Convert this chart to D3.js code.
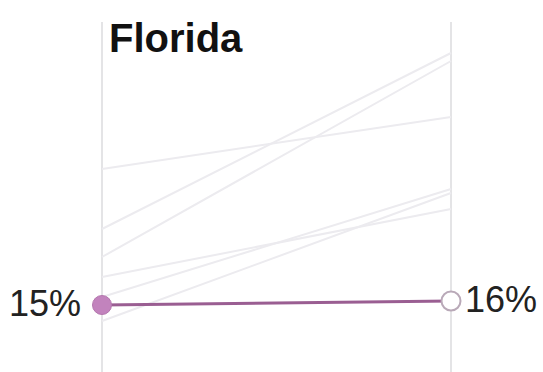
<!DOCTYPE html>
<html>
<head>
<meta charset="utf-8">
<script src="https://cdn.jsdelivr.net/npm/d3@7/dist/d3.min.js"></script>
<style>
  html, body { margin: 0; padding: 0; background: #fff; }
  svg { display: block; }
</style>
</head>
<body>
<div id="chart"></div>
<script>
// Share (%) at the start and end of the period
const state = "Florida";
const periods = ["start", "end"];
const highlightValues = [15, 16];
// Other states, drawn faint in the background
const otherStart = [49, 34, 27, 22, 17, 11];
const otherEnd   = [62, 78, 76, 39, 44, 43];

const width = 543, height = 372;

const svg = d3.select("#chart").append("svg")
  .attr("width", width)
  .attr("height", height);

const x = d3.scalePoint().domain(periods).range([102, 451]);
const y = d3.scaleLinear().domain([0, 90]).range([365, 5]);

// Vertical guides for the two periods
svg.selectAll("line.guide")
  .data(periods)
  .enter().append("line")
  .attr("class", "guide")
  .attr("x1", d => x(d)).attr("x2", d => x(d))
  .attr("y1", 22).attr("y2", height)
  .attr("stroke", "#e4e4e6")
  .attr("stroke-width", 2);

const line = d3.line().x(d => x(d.p)).y(d => y(d.v));

// Background lines
const others = otherStart.map((s, i) => [
  { p: periods[0], v: s },
  { p: periods[1], v: otherEnd[i] }
]);
svg.selectAll("path.other")
  .data(others)
  .enter().append("path")
  .attr("class", "other")
  .attr("d", line)
  .attr("fill", "none")
  .attr("stroke", "#ecebef")
  .attr("stroke-width", 2);

// Highlighted state
const hl = highlightValues.map((v, i) => ({ p: periods[i], v }));
svg.append("path")
  .attr("d", line(hl))
  .attr("fill", "none")
  .attr("stroke", "#9a5e92")
  .attr("stroke-width", 3);

svg.append("circle")
  .attr("cx", x(hl[0].p)).attr("cy", y(hl[0].v))
  .attr("r", 9.5)
  .attr("fill", "#c283bd")
  .attr("stroke", "#b477ae")
  .attr("stroke-width", 1);

svg.append("circle")
  .attr("cx", x(hl[1].p)).attr("cy", y(hl[1].v))
  .attr("r", 9.5)
  .attr("fill", "#fff")
  .attr("stroke", "#b9a9b8")
  .attr("stroke-width", 2);

// Value labels
svg.append("text")
  .attr("x", x(hl[0].p) - 21).attr("y", y(hl[0].v) + 11)
  .attr("text-anchor", "end")
  .attr("font-family", "Liberation Sans, Arial, sans-serif")
  .attr("font-size", 36)
  .attr("fill", "#222")
  .text(hl[0].v + "%");

svg.append("text")
  .attr("x", x(hl[1].p) + 14).attr("y", y(hl[1].v) + 11)
  .attr("text-anchor", "start")
  .attr("font-family", "Liberation Sans, Arial, sans-serif")
  .attr("font-size", 36)
  .attr("fill", "#222")
  .text(hl[1].v + "%");

// Title
svg.append("text")
  .attr("x", 109).attr("y", 52)
  .attr("font-family", "Liberation Sans, Arial, sans-serif")
  .attr("font-weight", "bold")
  .attr("font-size", 40)
  .attr("fill", "#111")
  .text(state);
</script>
</body>
</html>
